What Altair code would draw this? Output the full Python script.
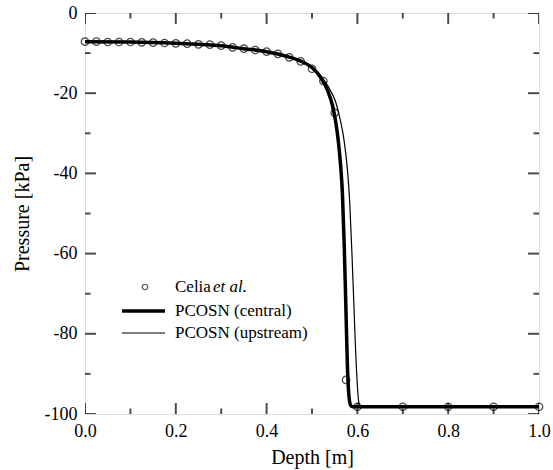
import altair as alt
import pandas as pd

# Celia et al. reference points
celia_depth = [0.0, 0.025, 0.05, 0.075, 0.1, 0.125, 0.15, 0.175, 0.2, 0.225, 0.25, 0.275,
               0.3, 0.325, 0.35, 0.375, 0.4, 0.425, 0.45, 0.475, 0.5, 0.525, 0.55, 0.575,
               0.6, 0.7, 0.8, 0.9, 1.0]
celia_pressure = [-7.15, -7.15, -7.23, -7.23, -7.23, -7.31, -7.4, -7.48, -7.56, -7.65, -7.81, -7.9,
                  -8.15, -8.56, -8.9, -9.23, -9.64, -10.2, -11.05, -12.05, -13.9, -16.96, -24.9, -91.5,
                  -98.2, -98.2, -98.2, -98.2, -98.2]

# PCOSN (central)
central_depth = [0.0, 0.1, 0.2, 0.3, 0.35, 0.4, 0.45, 0.475, 0.5, 0.52, 0.535, 0.545, 0.552,
                 0.558, 0.563, 0.567, 0.571, 0.575, 0.578, 0.581, 0.585, 0.59, 1.0]
central_pressure = [-7.15, -7.23, -7.56, -8.15, -8.9, -9.64, -11.0, -12.0, -13.6, -16.2, -19.5, -23.0, -27.0,
                    -32.0, -38.0, -45.0, -58.0, -75.0, -88.0, -95.0, -97.8, -98.2, -98.2]

# PCOSN (upstream)
upstream_depth = [0.0, 0.1, 0.2, 0.3, 0.35, 0.4, 0.45, 0.475, 0.5, 0.52, 0.54, 0.553, 0.563,
                  0.571, 0.578, 0.583, 0.588, 0.592, 0.596, 0.6, 0.603, 0.607, 1.0]
upstream_pressure = [-7.15, -7.23, -7.56, -8.15, -8.9, -9.64, -11.0, -11.9, -13.4, -15.8, -19.2, -22.5, -27.0,
                     -32.0, -39.0, -47.0, -60.0, -72.0, -84.0, -93.0, -97.0, -98.2, -98.2]

x_major = [0.0, 0.2, 0.4, 0.6, 0.8, 1.0]
x_minor = [0.1, 0.3, 0.5, 0.7, 0.9]
y_major = [-100, -80, -60, -40, -20, 0]
y_minor = [-90, -70, -50, -30, -10]

legend_labels = ["Celia", "et al.", "PCOSN (central)", "PCOSN (upstream)"]

FONT = "Liberation Serif"
W, H = 454, 401

xscale = alt.Scale(domain=[0, 1], nice=False, zero=False)
yscale = alt.Scale(domain=[-100, 0], nice=False, zero=False)

x_axis = alt.Axis(values=x_major, format=".1f", title="Depth [m]", ticks=False, domain=False,
                  grid=False, labelPadding=8, titlePadding=7, labelFontSize=18, titleFontSize=20,
                  labelFont=FONT, titleFont=FONT, labelColor="black", titleColor="black",
                  titleFontWeight="normal", labelFlush=False)
y_axis = alt.Axis(values=y_major, labelExpr="datum.value + ''", title="Pressure [kPa]", ticks=False,
                  domain=False, grid=False, labelPadding=8, titlePadding=12, labelFontSize=18,
                  titleFontSize=20, labelFont=FONT, titleFont=FONT, labelColor="black",
                  titleColor="black", titleFontWeight="normal", labelFlush=False)

X = lambda: alt.X("depth:Q", scale=xscale, axis=x_axis)
Y = lambda: alt.Y("pressure:Q", scale=yscale, axis=y_axis)

df_c = pd.DataFrame({"depth": celia_depth, "pressure": celia_pressure})
df_cen = pd.DataFrame({"depth": central_depth, "pressure": central_pressure})
df_up = pd.DataFrame({"depth": upstream_depth, "pressure": upstream_pressure})

central = alt.Chart(df_cen).mark_line(color="black", strokeWidth=3.5, interpolate="monotone").encode(x=X(), y=Y())
upstream = alt.Chart(df_up).mark_line(color="black", strokeWidth=1.2, interpolate="monotone").encode(x=X(), y=Y())
points = alt.Chart(df_c).mark_point(shape="circle", filled=False, color="black", size=55, strokeWidth=1.3).encode(x=X(), y=Y())

def xticks(vals, yval, size):
    d = pd.DataFrame({"depth": vals, "pressure": [yval] * len(vals)})
    return alt.Chart(d).mark_tick(orient="vertical", size=size, thickness=2, color="black", clip=True).encode(x=X(), y=Y())

def yticks(vals, xval, size):
    d = pd.DataFrame({"pressure": vals, "depth": [xval] * len(vals)})
    return alt.Chart(d).mark_tick(orient="horizontal", size=size, thickness=2, color="black", clip=True).encode(x=X(), y=Y())

ticks = [
    xticks(x_major, -100, 22), xticks(x_minor, -100, 11),
    xticks(x_major, 0, 22), xticks(x_minor, 0, 11),
    yticks(y_major, 0, 22), yticks(y_minor, 0, 11),
    yticks(y_major, 1, 22), yticks(y_minor, 1, 11),
]

leg_df = pd.DataFrame({"label": legend_labels})
def leg_text(i, x, y, style="normal"):
    return alt.Chart(leg_df).transform_filter(alt.datum.label == legend_labels[i]).mark_text(
        align="left", baseline="middle", font=FONT, fontSize=17, color="black", fontStyle=style
    ).encode(x=alt.value(x), y=alt.value(y), text="label:N")

leg_point = alt.Chart(leg_df).transform_filter(alt.datum.label == legend_labels[0]).mark_point(
    shape="circle", filled=False, color="black", size=30, strokeWidth=1.2
).encode(x=alt.value(60), y=alt.value(274))
leg_line1 = alt.Chart(leg_df).transform_filter(alt.datum.label == legend_labels[2]).mark_rule(
    color="black", strokeWidth=3.5
).encode(x=alt.value(37), x2=alt.value(80), y=alt.value(298))
leg_line2 = alt.Chart(leg_df).transform_filter(alt.datum.label == legend_labels[3]).mark_rule(
    color="black", strokeWidth=1.2
).encode(x=alt.value(37), x2=alt.value(80), y=alt.value(320))

legend = [leg_point, leg_line1, leg_line2,
          leg_text(0, 90, 274), leg_text(1, 128, 274, "italic"),
          leg_text(2, 90, 298), leg_text(3, 90, 320)]

chart = alt.layer(upstream, central, points, *ticks, *legend).properties(
    width=W, height=H,
    autosize=alt.AutoSizeParams(type="none"),
    padding={"left": 85, "top": 13, "right": 14, "bottom": 56},
).configure_view(stroke="black", strokeWidth=2).configure(background="white")

chart.save("out.html", embed_options={"renderer": "svg", "actions": False})
